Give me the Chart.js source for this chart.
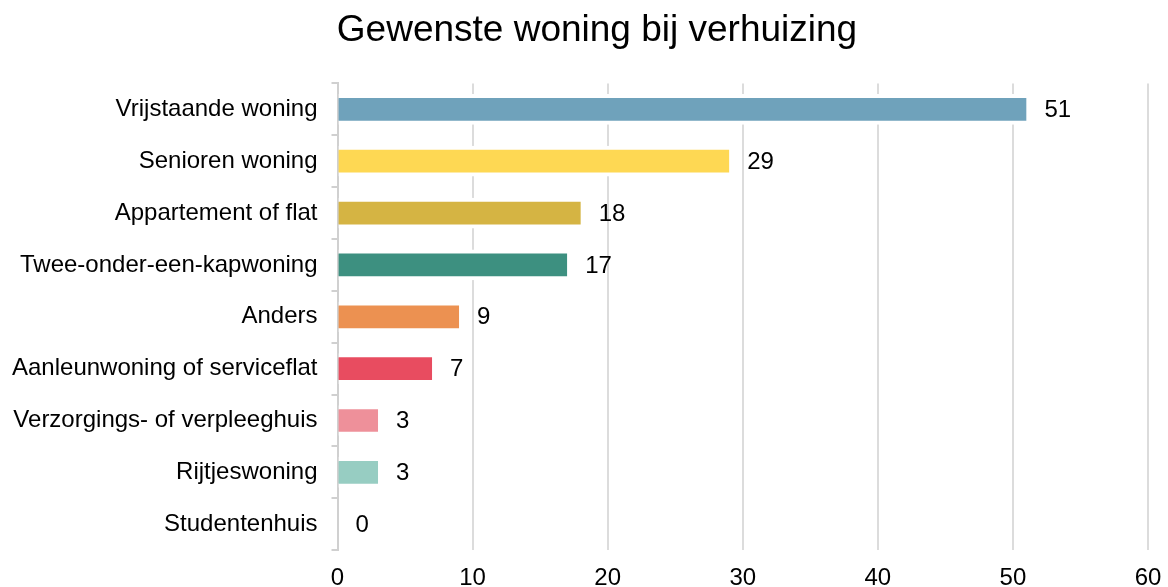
<!DOCTYPE html>
<html>
<head>
<meta charset="utf-8">
<script src="https://cdn.jsdelivr.net/npm/chart.js@4/dist/chart.umd.min.js"></script>
<style>
  html, body { margin: 0; padding: 0; background: #fff; overflow: hidden; }
  #wrap { width: 1168px; height: 597px; position: relative; }
</style>
</head>
<body>
<div id="wrap"><canvas id="c"></canvas></div>
<script>
const titleText = 'Gewenste woning bij verhuizing';
const categories = [
  'Vrijstaande woning',
  'Senioren woning',
  'Appartement of flat',
  'Twee-onder-een-kapwoning',
  'Anders',
  'Aanleunwoning of serviceflat',
  'Verzorgings- of verpleeghuis',
  'Rijtjeswoning',
  'Studentenhuis'
];
const values = [51, 29, 18, 17, 9, 7, 3, 3, 0];
const barColors = ['#6FA2BB', '#FED853', '#D5B443', '#3D9080', '#EC9151', '#E84C60', '#EE909A', '#97CDC2', '#cccccc'];
const xMin = 0, xMax = 60, xStep = 10;

const FONT = '"Liberation Sans", Arial, sans-serif';

const valueLabels = {
  id: 'valueLabels',
  afterDatasetsDraw(chart) {
    const ctx = chart.ctx;
    const meta = chart.getDatasetMeta(0);
    ctx.save();
    ctx.font = '24px ' + FONT;
    ctx.fillStyle = '#000';
    ctx.textAlign = 'left';
    ctx.textBaseline = 'middle';
    meta.data.forEach((bar, i) => {
      ctx.fillText(String(values[i]), bar.x + 18, bar.y + 1);
    });
    ctx.restore();
  }
};

const titleShift = {
  id: 'titleShift',
  afterLayout(chart) {
    const tb = chart.titleBlock;
    if (tb) { tb.left += 24; tb.right += 24; }
  }
};

new Chart(document.getElementById('c'), {
  type: 'bar',
  data: {
    labels: categories,
    datasets: [{
      data: values,
      backgroundColor: barColors,
      borderColor: '#ffffff',
      borderWidth: { top: 4, bottom: 4, left: 0, right: 0 },
      borderSkipped: false,
      barThickness: 30
    }]
  },
  options: {
    indexAxis: 'y',
    responsive: true,
    maintainAspectRatio: false,
    animation: false,
    layout: { padding: { left: -2, right: 20, top: 0, bottom: 0 } },
    plugins: {
      legend: { display: false },
      tooltip: { enabled: false },
      title: {
        display: true,
        text: titleText,
        color: '#000',
        font: { family: FONT, size: 37, weight: 'normal' },
        padding: { top: 9, bottom: 30 }
      }
    },
    scales: {
      x: {
        min: xMin,
        max: xMax,
        ticks: {
          stepSize: xStep,
          color: '#000',
          font: { family: FONT, size: 24 },
          padding: 4
        },
        grid: {
          color: '#dcdcdc',
          lineWidth: 2,
          drawTicks: true,
          tickLength: 10,
          tickColor: 'rgba(0,0,0,0)'
        },
        border: { display: false }
      },
      y: {
        ticks: {
          color: '#000',
          font: { family: FONT, size: 24 },
          padding: 14
        },
        grid: {
          drawOnChartArea: false,
          drawTicks: true,
          tickLength: 6,
          color: '#d0d0d0',
          lineWidth: 2,
          offset: true
        },
        border: { display: true, color: '#d0d0d0', width: 2 }
      }
    }
  },
  plugins: [valueLabels, titleShift]
});
</script>
</body>
</html>
